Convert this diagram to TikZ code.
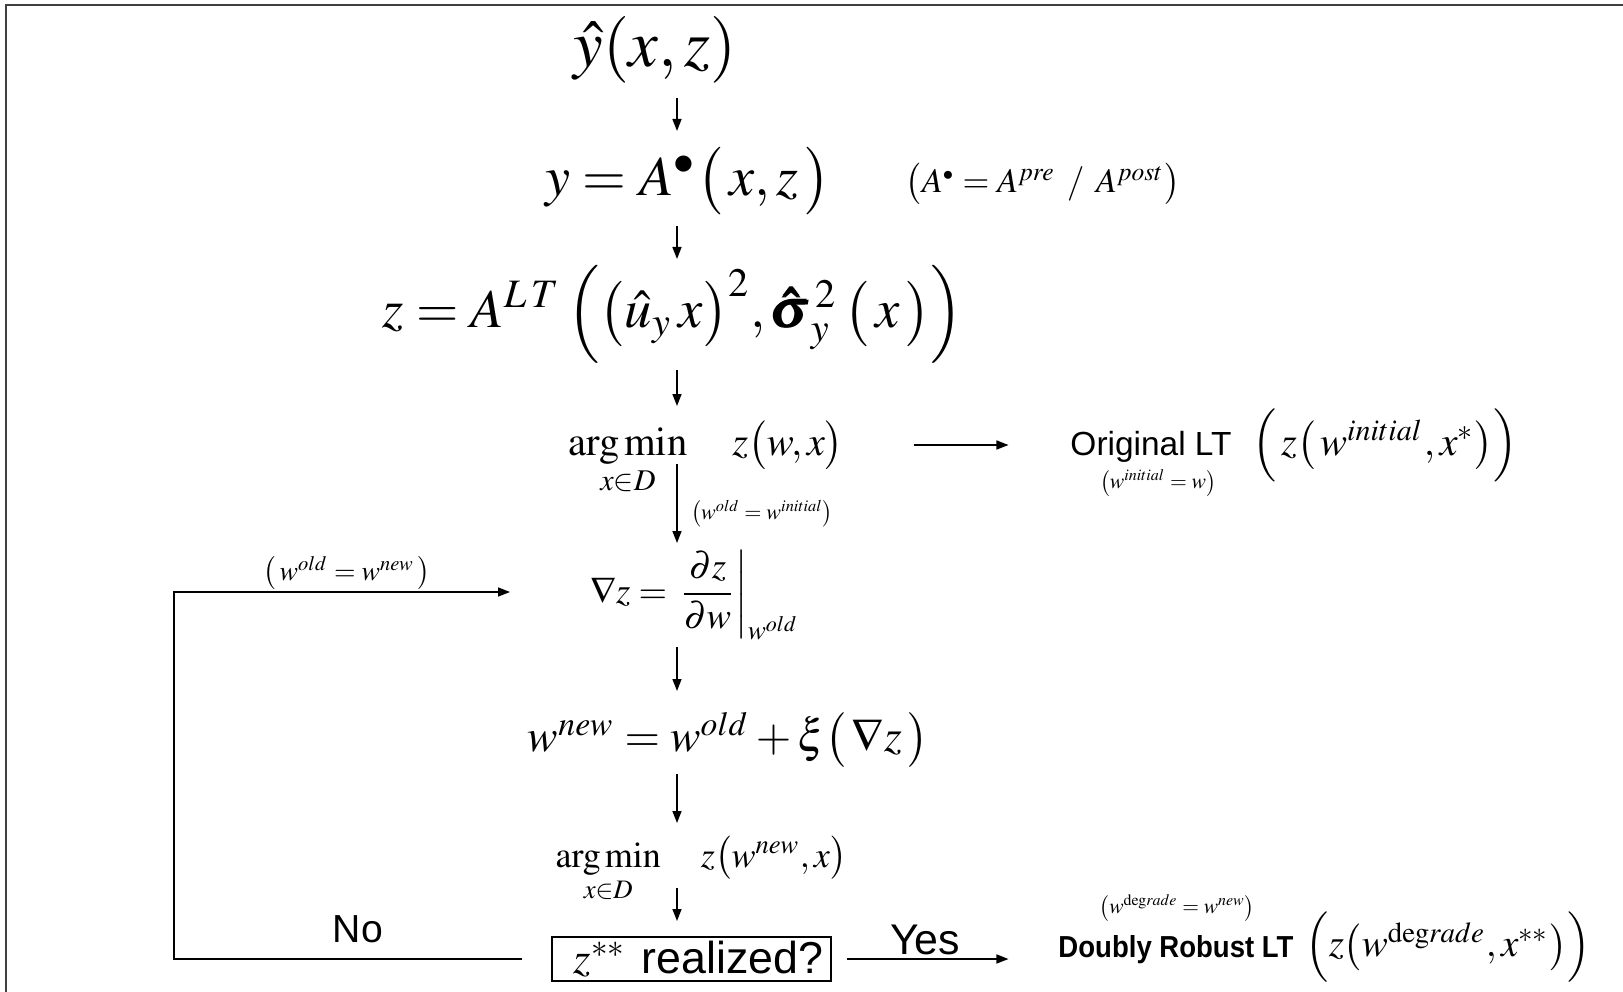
\documentclass[tikz,border=0pt]{standalone}
\usepackage{amsmath}
\usepackage{mathptmx}
\usepackage[no-math]{fontspec}
\usepackage{graphicx}
\newfontfamily\arial{Liberation Sans}
\usetikzlibrary{arrows.meta}
\newcommand{\RW}[2]{\resizebox{#1pt}{!}{#2}}
\begin{document}
\begin{tikzpicture}[x=1pt,y=-1pt,
  lbl/.style={inner sep=0pt, outer sep=0pt},
  arr/.style={line width=1.5pt, -{Triangle[length=12pt,width=9pt]}},
  frameline/.style={line width=2pt, black!75},
]
\useasboundingbox (0,0) rectangle (1623,992);
\fill[white] (0,0) rectangle (1623,992);
\draw[frameline] (6,992) -- (6,5) -- (1623,5);
\coordinate (ax) at (677,0);
\coordinate (lt) at (174,592);

\node[lbl] (yhat) at (655,50) {\RW{163}{$\hat{y}(x,z)$}};
\node[lbl] (yeq) at (688,181) {\RW{285}{$y = A^{\bullet}\big(\,x, z\,\big)$}};
\node[lbl] (anote) at (1043,184) {\RW{274}{$\big(A^{\scriptscriptstyle\bullet} = A^{pre}\ /\ A^{post}\big)$}};
\node[lbl] (zeq) at (673,314) {\RW{580}{$z = A^{L\,T}\,\Big(\big(\hat{u}_{y}\,x\big)^{2}, \pmb{\hat{\sigma}}_{y}^{\,2}\,\big(\,x\,\big)\Big)$}};
\node[lbl, anchor=base] (am1) at (706,455) {\RW{275}{$\mathop{\mathrm{arg\,min}}\limits_{x\in D}\quad z\big(w, x\big)$}};
\node[lbl, anchor=base] (orig) at (1151,455) {\RW{161}{\arial Original LT}};
\node[lbl] (initl) at (1158,483) {\RW{116}{$\big(w^{initial} = w\big)$}};
\node[lbl] (zinit) at (1385,445) {\RW{265}{$\Big(\,z\big(\,w^{initial}, x^{*}\big)\Big)$}};
\node[lbl] (oldinit) at (762,514) {\RW{142}{$\big(w^{old} = w^{initial}\big)$}};
\node[lbl] (grad) at (695,595) {\RW{210}{$\nabla z = \left.\dfrac{\partial z}{\partial w}\right|_{w^{old}}$}};
\node[lbl] (wnew) at (728,740) {\RW{400}{$w^{new} = w^{old} + \xi\big(\,\nabla z\,\big)$}};
\node[lbl, anchor=base] (am2) at (701,867) {\RW{291}{$\mathop{\mathrm{arg\,min}}\limits_{x\in D}\quad z\big(w^{new}, x\big)$}};
\node[draw, line width=1.8pt, minimum width=279pt, minimum height=44pt, inner sep=0pt] (box) at (691.5,959) {\hspace*{14pt}\RW{249}{$z^{**}$\ {\arial realized?}}};
\node[lbl] (no) at (358,929) {\RW{50}{\arial No}};
\node[lbl] (yes) at (925,940) {\RW{70}{\arial Yes}};
\node[lbl] (degl) at (1177,908) {\RW{155}{$\big(w^{\mathrm{deg}rade} = w^{new}\big)$}};
\node[lbl, anchor=base] (drl) at (1176,957) {\resizebox{235pt}{22pt}{\arial\bfseries Doubly Robust LT}};
\node[lbl] (zdeg) at (1448,947) {\RW{285}{$\Big(z\big(w^{\mathrm{deg}rade}, x^{**}\big)\Big)$}};
\node[lbl] (loopl) at (347,573) {\RW{166}{$\big(\,w^{old} = w^{new}\,\big)$}};

\draw[arr, shorten <=48pt, shorten >=50pt] (yhat.center -| ax) -- (yeq.center -| ax);
\draw[arr, shorten <=45pt, shorten >=55pt] (yeq.center -| ax) -- (zeq.center -| ax);
\draw[arr, shorten <=56pt, shorten >=49pt] (zeq.center -| ax) -- (am1.base -| ax);
\draw[arr, shorten <=9pt, shorten >=52pt] (am1.base -| ax) -- (grad.center -| ax);
\draw[arr, shorten <=52pt, shorten >=49pt] (grad.center -| ax) -- (wnew.center -| ax);
\draw[arr, shorten <=34pt, shorten >=44pt] (wnew.center -| ax) -- (am2.base -| ax);
\draw[arr, shorten <=21pt, shorten >=38pt] (am2.base -| ax) -- (box.center -| ax);
\draw[arr, shorten <=70pt, shorten >=62pt] (am1.east |- zinit.west) -- (orig.west |- zinit.west);
\draw[arr, shorten <=15pt, shorten >=50pt] (box.east) -- (drl.west |- box.east);
\draw[arr, shorten <=29pt, shorten >=80pt] (box.west) -- (box.west -| lt) -- (lt) -- (grad.west |- lt);
\end{tikzpicture}
\end{document}
